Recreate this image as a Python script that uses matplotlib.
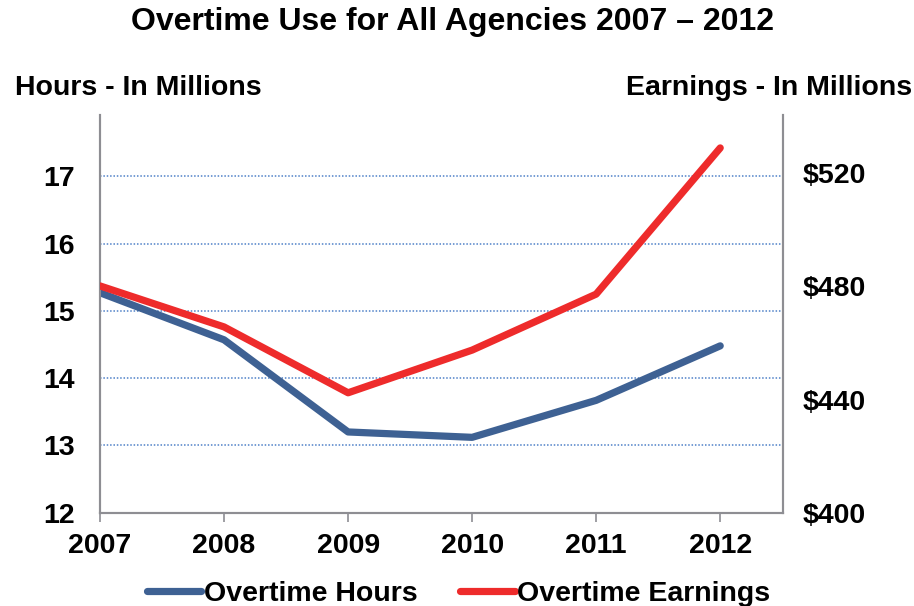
import matplotlib
matplotlib.use("Agg")
import matplotlib.pyplot as plt
from matplotlib.ticker import FuncFormatter

plt.rcParams['font.family'] = ['Liberation Sans', 'DejaVu Sans']
plt.rcParams['font.weight'] = 'bold'

# data
years = ['2007', '2008', '2009', '2010', '2011', '2012']
hours = [15.27, 14.57, 13.20, 13.12, 13.67, 14.48]          # millions of hours
earnings = [480.2, 465.7, 442.4, 457.5, 477.3, 529.0]       # $ millions
hours_ticks = [12, 13, 14, 15, 16, 17]
earn_ticks = [400, 440, 480, 520]

blue = '#3E6193'
red = '#EE2B2B'
axis_grey = '#8E8E93'

fig = plt.figure(figsize=(9.14, 6.06), dpi=100)
ax = fig.add_axes([0.1094, 0.154, 0.7478, 0.656])
ax2 = ax.twinx()

x = list(range(len(years)))
l1, = ax.plot(x, hours, color=blue, lw=5.2, solid_capstyle='round',
              solid_joinstyle='round', label='Overtime Hours', zorder=3)
l2, = ax2.plot(x, earnings, color=red, lw=5.2, solid_capstyle='round',
               solid_joinstyle='round', label='Overtime Earnings', zorder=3)

ax.set_xlim(0, 5.51)
ax.set_ylim(12, 17.91)
ax2.set_ylim(400, 540.6)

ax.set_xticks(x)
ax.set_xticklabels(years)
ax.set_yticks(hours_ticks)
ax2.set_yticks(earn_ticks)
ax2.yaxis.set_major_formatter(FuncFormatter(lambda v, p: f'${v:.0f}'))

ax.tick_params(axis='x', length=6.5, width=1.2, color=axis_grey,
               labelsize=20.5, pad=8, direction='out')
ax.tick_params(axis='y', length=0, labelsize=20.5, pad=18)
ax2.tick_params(axis='y', length=0, labelsize=20.5, pad=14)

for a in (ax, ax2):
    a.spines['top'].set_visible(False)
    for s in ('left', 'right', 'bottom'):
        a.spines[s].set_color(axis_grey)
        a.spines[s].set_linewidth(1.5)

ax.yaxis.grid(True, color='#4F81C8', linestyle=(0, (1, 1.2)), linewidth=1.1)
ax.set_axisbelow(True)
# hide the gridline at the bottom (axis line sits there)
ax.yaxis.get_gridlines()[0].set_visible(False)

fig.text(0.495, 0.964, 'Overtime Use for All Agencies 2007 \u2013 2012',
         ha='center', va='center', fontsize=23, fontweight='bold')
fig.text(0.016, 0.855, 'Hours - In Millions', ha='left', va='center',
         fontsize=20.5, fontweight='bold')
fig.text(0.998, 0.855, 'Earnings - In Millions', ha='right', va='center',
         fontsize=20.5, fontweight='bold')

fig.legend(handles=[l1, l2], loc='center', bbox_to_anchor=(0.502, 0.020),
           ncol=2, frameon=False, fontsize=20.5, handlelength=1.9,
           handletextpad=0.1, columnspacing=1.5)

fig.savefig('out.png', dpi=100)
